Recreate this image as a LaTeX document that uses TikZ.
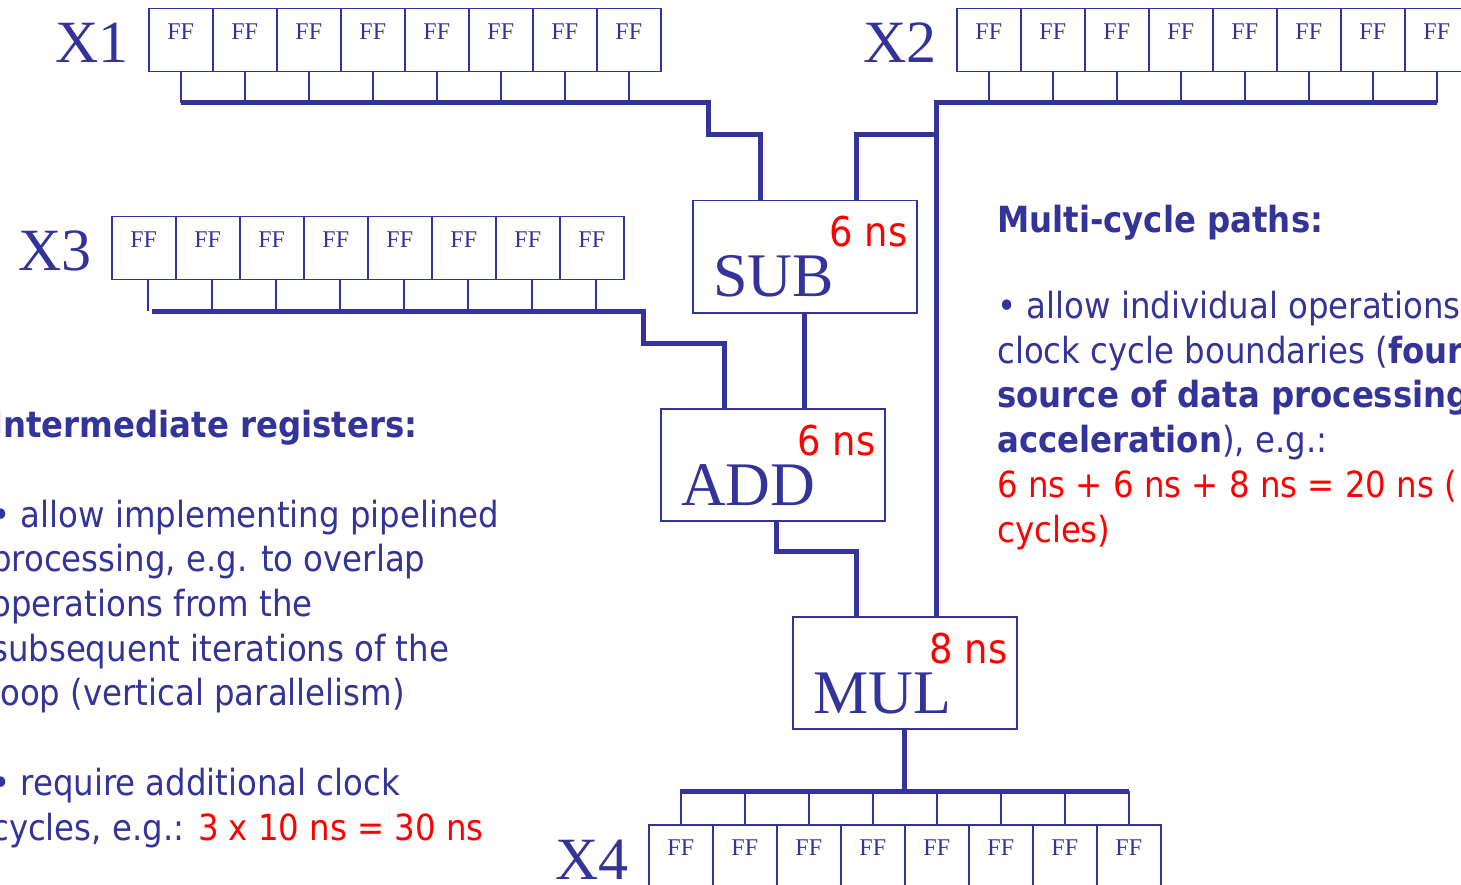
\documentclass[tikz,border=0pt]{standalone}
\usepackage{fontspec}
\setmainfont{Liberation Serif}
\newfontfamily\notefont{DejaVu Sans Condensed}
\usetikzlibrary{calc}
\definecolor{regblue}{RGB}{51,51,153}
\tikzstyle{ffcell}=[draw=regblue,line width=1.5pt,minimum width=64pt,minimum height=63pt,inner sep=0pt,anchor=north west,text=regblue,font=\fontsize{24}{24}\selectfont,text height=16pt,text depth=17pt]
\tikzstyle{reglabel}=[text=regblue,font=\fontsize{60}{60}\selectfont,anchor=base east,inner sep=0pt]
\tikzstyle{opbox}=[draw=regblue,line width=1.5pt,minimum width=224pt,minimum height=112pt,inner sep=0pt,anchor=north west]
\tikzstyle{opname}=[text=regblue,font=\fontsize{62}{62}\selectfont,anchor=base west,inner sep=0pt]
\tikzstyle{delay}=[text=red,font=\notefont\fontsize{41}{41}\selectfont,anchor=base east,inner sep=0pt]
\tikzstyle{tap}=[draw=regblue,line width=1.5pt]
\tikzstyle{bus}=[draw=regblue,line width=5pt]
\tikzstyle{notes}=[text=regblue,font=\notefont\fontsize{36}{44.7}\selectfont,align=left,anchor=base west,inner sep=0pt]

\begin{document}
\begin{tikzpicture}[x=1pt,y=-1pt]
    \useasboundingbox (0,0) rectangle (1461,885);
    \clip (0,0) rectangle (1461,885);

    % The four registers, eight flip-flops each
    \foreach \reg/\x/\y in {X1/148/8, X2/956/8, X3/111/216, X4/648/824}{
        \foreach \i in {1,...,8}
            \node[ffcell] (\reg-\i) at ({\x+64*(\i-1)},\y) {FF};
        \node[reglabel] (\reg-lab) at ($(\reg-1.north west)+(-19,55)$) {\reg};
    }

    % Operators with their delays
    \node[opbox] (sub) at (692,200) {};
    \node[opbox] (add) at (660,408) {};
    \node[opbox] (mul) at (792,616) {};
    \foreach \op/\name/\ns in {sub/SUB/6, add/ADD/6, mul/MUL/8}{
        \node[opname] (\op-name) at ($(\op.north west)+(21,97)$) {\name};
        \node[delay] (\op-time) at ($(\op.north east)+(-10,47)$) {\ns~ns};
    }

    % Bus levels
    \coordinate (X1bus) at (181,103);
    \coordinate (X2bus) at (936,103);
    \coordinate (X3bus) at (152,311);
    \coordinate (X4bus) at (680,791);

    % Taps from the flip-flops down to the buses
    \foreach \reg/\dx in {X1/0, X2/0, X3/4}
        \foreach \i in {1,...,8}
            \draw[tap] ([xshift=\dx pt]\reg-\i.south) -- ([xshift=\dx pt]\reg-\i.south |- \reg bus);
    \foreach \i in {1,...,8}
        \draw[tap] (X4-\i.north) -- (X4-\i.north |- X4bus);

    % Operator inputs
    \coordinate (subinA) at ($(sub.north west)+(68,0)$);
    \coordinate (subinB) at ($(sub.north west)+(164,0)$);
    \coordinate (addinA) at ($(add.north west)+(64,0)$);
    \coordinate (addout) at ($(add.south west)+(116,0)$);
    \coordinate (mulinA) at ($(mul.north west)+(64,0)$);
    \coordinate (mulinB) at ($(mul.north west)+(144,0)$);

    % X1 -> SUB
    \draw[bus] (X1bus) -- ++(527,0) |- ($(subinA)+(0,-65)$) -- (subinA);
    % X2 -> SUB and MUL
    \draw[bus] (X2-8.south |- X2bus) -- (X2bus) -- (mulinB);
    \draw[bus] ($(X2bus)+(0,32)$) -| (subinB);
    % X3 -> ADD
    \draw[bus] (X3bus) -- ++(491,0) |- ($(addinA)+(0,-65)$) -- (addinA);
    % SUB -> ADD -> MUL
    \draw[bus] (sub.south) -- (sub.south |- add.north);
    \draw[bus] (addout) |- ($(mulinA)+(0,-65)$) -- (mulinA);
    % MUL -> X4
    \draw[bus] (mul.south) -- (mul.south |- X4bus);
    \draw[bus] (X4bus) -- (X4-8.north |- X4bus);

    % Notes (anchored on the baseline of their last line)
    \node[notes] (intreg) at (-9,840) {\textbf{Intermediate registers:}\\[44.7pt]
        • allow implementing pipelined\\
        processing, e.g. to overlap\\
        operations from the\\
        subsequent iterations of the\\
        loop (vertical parallelism)\\[44.7pt]
        • require additional clock\\
        cycles, e.g.: {\color{red}3 x 10 ns = 30 ns}};
    \node[notes] (multi) at (997,542) {\textbf{Multi-cycle paths:}\\[41pt]
        • allow individual operations\\
        clock cycle boundaries (\textbf{four}\\
        \textbf{source of data processing}\\
        \textbf{acceleration}), e.g.:\\
        {\color{red}6 ns + 6 ns + 8 ns = 20 ns (}\\
        {\color{red}cycles)}};

\end{tikzpicture}
\end{document}
